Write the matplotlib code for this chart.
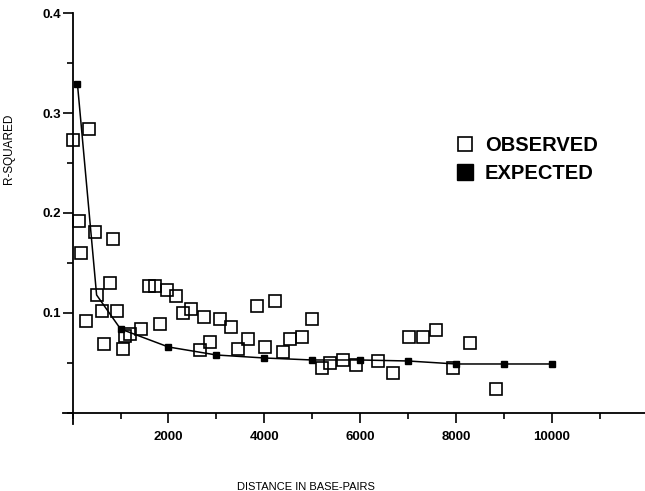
import matplotlib.pyplot as plt
from matplotlib.lines import Line2D
from matplotlib.ticker import MultipleLocator, FixedLocator

plt.rcParams["font.family"] = ["Liberation Sans", "DejaVu Sans"]

# observed r-squared values (open squares)
obs_dist = [10, 340, 130, 465, 840, 175, 780, 505, 280, 610, 930, 660,
            1045, 1100, 1200, 1425, 1820, 1600, 1720, 1960, 2150, 2310,
            2480, 2740, 2650, 2870, 3075, 3300, 3460, 3666, 3840, 4223,
            4015, 4384, 4537, 4780, 5002, 5211, 5372, 5650, 5915, 6367,
            6690, 7027, 7307, 7585, 8294, 7946, 8837]
obs_r2 = [0.273, 0.284, 0.192, 0.181, 0.174, 0.160, 0.130, 0.118, 0.092,
          0.102, 0.102, 0.069, 0.064, 0.077, 0.079, 0.084, 0.089, 0.127,
          0.127, 0.123, 0.117, 0.100, 0.104, 0.096, 0.063, 0.071, 0.094,
          0.086, 0.064, 0.074, 0.107, 0.112, 0.066, 0.061, 0.074, 0.076,
          0.094, 0.045, 0.050, 0.053, 0.048, 0.052, 0.040, 0.076, 0.076,
          0.083, 0.070, 0.045, 0.024]

# expected curve (filled squares joined by a line)
exp_dist = [100, 500, 1000, 2000, 3000, 4000, 5000, 6000, 7000, 8000, 9000, 10000]
exp_r2 = [0.329, 0.118, 0.084, 0.066, 0.058, 0.055, 0.053, 0.053, 0.052,
          0.049, 0.049, 0.049]

x_major = [2000, 4000, 6000, 8000, 10000]
x_minor = [0, 1000, 3000, 5000, 7000, 9000, 11000]

fig = plt.figure(figsize=(6.45, 4.91), dpi=100)
ax = fig.add_axes([0.0978, 0.1365, 0.9022, 0.837])

ax.plot(exp_dist, exp_r2, color="black", lw=1.1, marker="s", ms=4.2,
        markevery=[i for i in range(len(exp_dist)) if i != 1], zorder=2)
ax.plot(obs_dist, obs_r2, ls="none", marker="s", ms=9.2, mfc="none",
        mec="black", mew=1.2, zorder=3)

ax.set_xlim(-200, 11950)
ax.set_ylim(-0.011, 0.4)

for side in ("top", "right"):
    ax.spines[side].set_visible(False)
ax.spines["left"].set_position(("data", 0))
ax.spines["bottom"].set_position(("data", 0))
ax.spines["left"].set_linewidth(1.3)
ax.spines["bottom"].set_linewidth(1.3)

ax.xaxis.set_major_locator(FixedLocator(x_major))
ax.xaxis.set_minor_locator(FixedLocator(x_minor))
ax.set_xticklabels([str(v) for v in x_major])
ax.yaxis.set_major_locator(FixedLocator([0.1, 0.2, 0.3, 0.4]))
ax.yaxis.set_minor_locator(MultipleLocator(0.05))
ax.set_yticklabels(["0.1", "0.2", "0.3", "0.4"])

ax.tick_params(axis="x", which="major", direction="out", length=7, width=1.2,
               pad=6, labelsize=9.5)
ax.tick_params(axis="x", which="minor", direction="out", length=4, width=1.2)
ax.tick_params(axis="y", which="major", direction="out", length=7, width=1.2,
               pad=1.5, labelsize=9.5)
ax.tick_params(axis="y", which="minor", direction="out", length=4, width=1.2)
for lab in ax.get_xticklabels() + ax.get_yticklabels():
    lab.set_fontweight("bold")

ax.set_xlabel("DISTANCE IN BASE-PAIRS", fontsize=8)
ax.xaxis.set_label_coords(0.417, -0.141)
ax.set_ylabel("R-SQUARED", fontsize=8.5)
ax.yaxis.set_label_coords(-0.083, 0.669)

handles = [
    Line2D([], [], ls="none", marker="s", ms=10, mfc="none", mec="black", mew=1.2),
    Line2D([], [], ls="none", marker="s", ms=11, color="black"),
]
ax.legend(handles, ["OBSERVED", "EXPECTED"], loc="center left",
          bbox_to_anchor=(0.642, 0.643), frameon=False,
          prop={"weight": "bold", "size": 14.5}, handletextpad=0.5,
          labelspacing=0.45, handlelength=1.0)

fig.savefig("out.png", dpi=100)
